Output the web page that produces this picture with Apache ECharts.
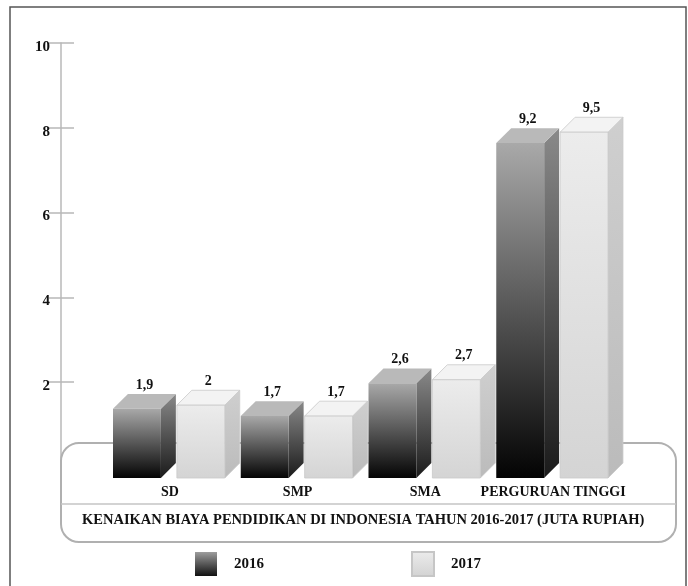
<!DOCTYPE html>
<html>
<head>
<meta charset="utf-8">
<script src="https://cdn.jsdelivr.net/npm/echarts@6/dist/echarts.min.js"></script>
<style>html,body{margin:0;padding:0;background:#fff;}#c{width:688px;height:586px;}</style>
</head>
<body>
<div id="c"></div>
<script>
const categories = ['SD', 'SMP', 'SMA', 'PERGURUAN TINGGI'];
const seriesNames = ['2016', '2017'];
const values2016 = [1.9, 1.7, 2.6, 9.2];
const values2017 = [2, 1.7, 2.7, 9.5];
const tickValues = [2, 4, 6, 8, 10];
const chartTitle = 'KENAIKAN BIAYA PENDIDIKAN DI INDONESIA TAHUN 2016-2017 (JUTA RUPIAH)';

const FONT = '"Liberation Serif", "Times New Roman", serif';
const grad = (a, b) => new echarts.graphic.LinearGradient(0, 0, 0, 1, [{offset: 0, color: a}, {offset: 1, color: b}]);

const looks = [
  { front: ['#a9a9a9', '#030303'], side: ['#8a8a8a', '#1a1a1a'], top: '#b9b9b9', stroke: 'rgba(0,0,0,0)' },
  { front: ['#ececec', '#d4d4d4'], side: ['#cfcfcf', '#bbbbbb'], top: '#f3f3f3', stroke: '#c9c9c9' }
];

function fmt(v) { return String(v).replace('.', ','); }

function makeRender(k) {
  return function (params, api) {
    const i = api.value(0), v = api.value(1);
    const base = api.coord([i, 0]);
    const top = api.coord([i, v]);
    const band = api.size([1, 0])[0];
    const w = band * 0.375, d = band * 0.117;
    const xL = base[0] - band / 2 + k * band * 0.5;
    const yT = top[1], yB = base[1];
    const L = looks[k];
    return {
      type: 'group',
      children: [
        { type: 'polygon', shape: { points: [[xL + w, yT], [xL + w + d, yT - d], [xL + w + d, yB - d], [xL + w, yB]] },
          style: { fill: grad(L.side[0], L.side[1]), stroke: L.stroke, lineWidth: 0.8 } },
        { type: 'polygon', shape: { points: [[xL, yT], [xL + d, yT - d], [xL + w + d, yT - d], [xL + w, yT]] },
          style: { fill: L.top, stroke: L.stroke, lineWidth: 0.8 } },
        { type: 'rect', shape: { x: xL, y: yT, width: w, height: yB - yT },
          style: { fill: grad(L.front[0], L.front[1]), stroke: L.stroke, lineWidth: 0.8 } },
        { type: 'text', style: { text: fmt(v), x: xL + (w + d) / 2, y: yT - d - 2, align: 'center', verticalAlign: 'bottom',
          fontFamily: FONT, fontWeight: 'bold', fontSize: 14, fill: '#111' } }
      ]
    };
  };
}

const chart = echarts.init(document.getElementById('c'), null, { renderer: 'canvas' });
chart.setOption({
  animation: false,
  backgroundColor: '#fff',
  title: {
    text: chartTitle, left: 82, top: 513, padding: 0, z: 6,
    textStyle: { fontFamily: FONT, fontWeight: 'bold', fontSize: 14.5, color: '#111' }
  },
  legend: {
    data: seriesNames, left: 195, top: 551, icon: 'rect', itemWidth: 22, itemHeight: 24, itemGap: 147, padding: 0,
    textStyle: { fontFamily: FONT, fontWeight: 'bold', fontSize: 15, color: '#111', padding: [0, 0, 0, 12] }
  },
  grid: [
    { left: 61, right: 100, top: 43, bottom: 119 },
    { left: 113, right: 64, top: 114, bottom: 108 }
  ],
  xAxis: [
    { gridIndex: 0, type: 'value', show: false },
    { gridIndex: 1, type: 'category', data: categories, z: 3,
      axisLine: { show: false }, axisTick: { show: false },
      axisLabel: { interval: 0, margin: 7, fontFamily: FONT, fontWeight: 'bold', fontSize: 14, color: '#111', padding: [0, 14, 0, 0] } }
  ],
  yAxis: [
    { gridIndex: 0, type: 'value', min: 0, max: 10, position: 'left', z: 0,
      splitLine: { show: false },
      axisLine: { show: true, lineStyle: { color: '#b8b8b8', width: 1.5 } },
      axisTick: { show: true, length: 12, customValues: tickValues, lineStyle: { color: '#b8b8b8', width: 1.5 } },
      axisLabel: { customValues: tickValues, margin: 11, verticalAlign: 'top', lineHeight: 8, fontFamily: FONT, fontWeight: 'bold', fontSize: 15, color: '#111' } },
    { gridIndex: 0, type: 'value', min: 0, max: 10, position: 'left', z: 0,
      splitLine: { show: false }, axisLine: { show: false }, axisLabel: { show: false },
      axisTick: { show: true, inside: true, length: 13, customValues: tickValues, lineStyle: { color: '#b8b8b8', width: 1.5 } } },
    { gridIndex: 1, type: 'value', min: 0, max: 10, show: false }
  ],
  graphic: [
    { type: 'rect', z: 0, shape: { x: 10, y: 7, width: 676, height: 600 }, style: { fill: 'none', stroke: '#555', lineWidth: 1.5 } },
    { type: 'rect', z: 1, shape: { x: 61, y: 443, width: 615, height: 99, r: 18 }, style: { fill: '#fff', stroke: '#b0b0b0', lineWidth: 2 } },
    { type: 'line', z: 1, shape: { x1: 61, y1: 504, x2: 676, y2: 504 }, style: { stroke: '#c4c4c4', lineWidth: 1.5 } }
  ],
  series: [
    { name: seriesNames[0], type: 'custom', xAxisIndex: 1, yAxisIndex: 2, z: 2,
      itemStyle: { color: grad('#9d9d9d', '#111111') },
      renderItem: makeRender(0), data: values2016.map((v, i) => [i, v]) },
    { name: seriesNames[1], type: 'custom', xAxisIndex: 1, yAxisIndex: 2, z: 2,
      itemStyle: { color: grad('#ececec', '#d2d2d2'), borderColor: '#c6c6c6', borderWidth: 1 },
      renderItem: makeRender(1), data: values2017.map((v, i) => [i, v]) }
  ]
});
</script>
</body>
</html>
